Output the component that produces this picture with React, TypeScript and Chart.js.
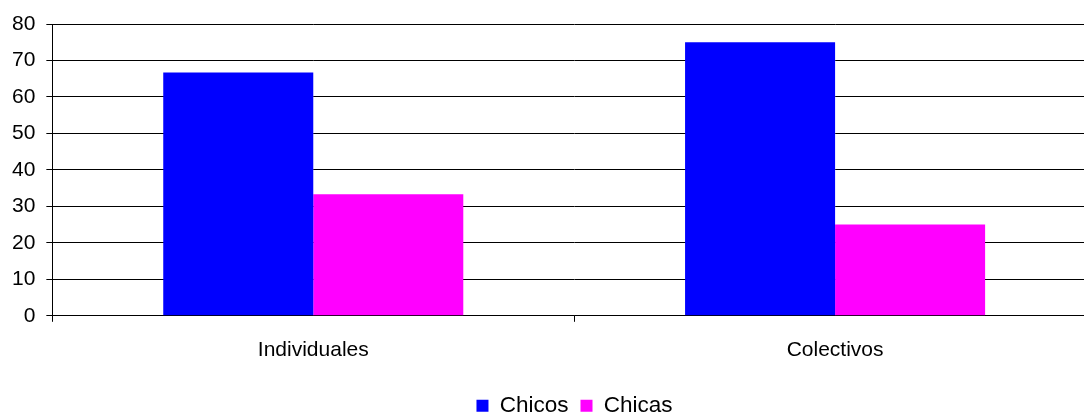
import React, { useEffect, useRef } from "react";
import { Chart, registerables } from "chart.js";

Chart.register(...registerables);

const categories = ["Individuales", "Colectivos"];
const chicos = [66.7, 75];
const chicas = [33.3, 25];
const yTicks = [0, 10, 20, 30, 40, 50, 60, 70, 80];

const legendShift = {
  id: "legendShift",
  afterLayout(chart: any) {
    const lg = chart.legend;
    if (lg) {
      lg.left += 26;
      lg.right += 26;
    }
  },
};

export default function App() {
  const ref = useRef<HTMLCanvasElement | null>(null);
  useEffect(() => {
    if (!ref.current) return;
    const font = { family: "'Liberation Sans', Arial, sans-serif", size: 21 };
    const legendFont = { family: "'Liberation Sans', Arial, sans-serif", size: 22.5 };
    const chart = new Chart(ref.current, {
      type: "bar",
      data: {
        labels: categories,
        datasets: [
          { label: "Chicos", data: chicos, backgroundColor: "#0000FF", borderWidth: 0 },
          { label: "Chicas", data: chicas, backgroundColor: "#FF00FF", borderWidth: 0 },
        ],
      },
      plugins: [legendShift],
      options: {
        responsive: false,
        animation: false,
        layout: { padding: { top: 24, left: 1, right: 52, bottom: 0 } },
        datasets: { bar: { categoryPercentage: 0.575, barPercentage: 1 } },
        plugins: {
          tooltip: { enabled: false },
          legend: {
            position: "bottom",
            labels: { color: "#000", font: legendFont, boxWidth: 12, boxHeight: 12, padding: 12 },
          },
        },
        scales: {
          x: {
            afterFit: (axis: any) => {
              axis.height += 3.5;
            },
            grid: { drawOnChartArea: false, drawTicks: true, tickLength: 6, color: "#000" },
            border: { color: "#000", width: 1 },
            ticks: { color: "#000", font, padding: 16 },
          },
          y: {
            min: 0,
            max: 80,
            afterBuildTicks: (axis: any) => {
              axis.ticks = yTicks.map((v) => ({ value: v }));
            },
            grid: { color: "#000", tickLength: 6 },
            border: { color: "#000", width: 1 },
            ticks: { color: "#000", font, padding: 11 },
          },
        },
      },
    });
    return () => chart.destroy();
  }, []);
  return (
    <div style={{ position: "absolute", left: 0, top: 0, width: 1084, height: 414, overflow: "hidden", background: "#fff" }}>
      <canvas ref={ref} width={1148} height={427} />
    </div>
  );
}
